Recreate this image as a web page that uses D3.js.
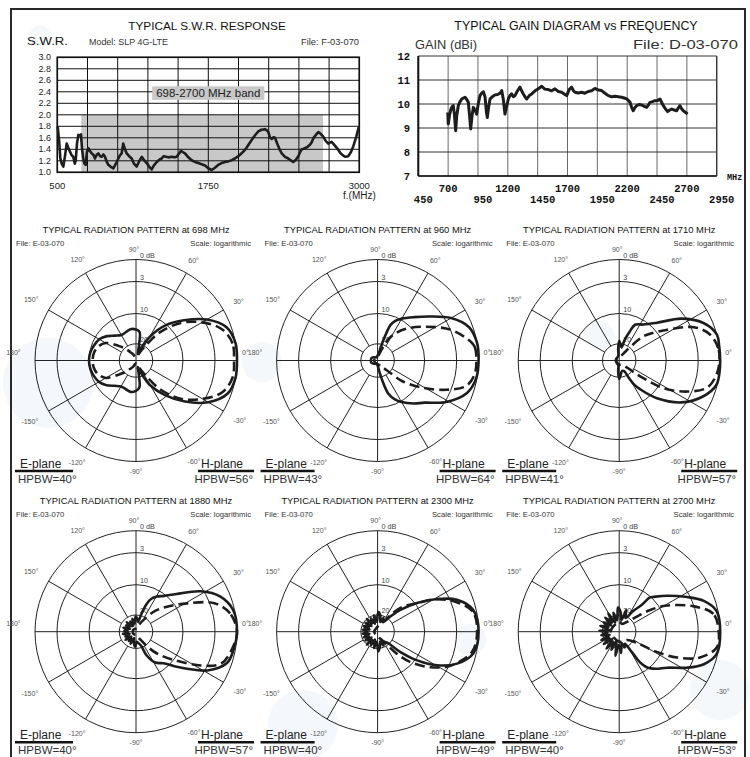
<!DOCTYPE html>
<html><head><meta charset="utf-8">
<script src="https://cdn.jsdelivr.net/npm/d3@7"></script>
<style>body{margin:0;background:#fff}svg{display:block}</style>
</head><body>
<svg id="c" width="750" height="757"></svg>
<script>
// ---------------- DATA ----------------
const swrCurve = [[503,1.80],[515,1.55],[525,1.25],[536,1.15],[550,1.10],[565,1.30],[578,1.50],[592,1.42],[605,1.36],[618,1.30],[632,1.27],[645,1.15],[652,1.20],[663,1.50],[674,1.65],[686,1.64],[696,1.66],[705,1.40],[715,1.24],[725,1.15],[735,1.13],[745,1.35],[757,1.42],[770,1.37],[785,1.33],[800,1.30],[812,1.24],[825,1.30],[840,1.33],[855,1.28],[868,1.27],[882,1.31],[895,1.27],[910,1.18],[922,1.13],[940,1.10],[964,1.07],[985,1.15],[1005,1.24],[1020,1.30],[1033,1.33],[1046,1.50],[1060,1.40],[1074,1.33],[1095,1.28],[1116,1.24],[1135,1.15],[1157,1.10],[1175,1.18],[1199,1.27],[1215,1.22],[1240,1.16],[1260,1.10],[1281,1.05],[1300,1.12],[1323,1.18],[1345,1.22],[1364,1.24],[1380,1.28],[1400,1.27],[1420,1.26],[1447,1.27],[1470,1.26],[1488,1.27],[1510,1.33],[1524,1.37],[1540,1.35],[1557,1.33],[1585,1.26],[1612,1.21],[1640,1.18],[1667,1.16],[1695,1.14],[1723,1.12],[1750,1.07],[1778,1.04],[1805,1.08],[1833,1.13],[1860,1.16],[1888,1.18],[1915,1.19],[1944,1.21],[1970,1.24],[1999,1.28],[2025,1.33],[2054,1.39],[2080,1.47],[2109,1.56],[2135,1.64],[2164,1.71],[2190,1.74],[2219,1.75],[2235,1.73],[2247,1.70],[2262,1.60],[2275,1.58],[2290,1.61],[2302,1.60],[2320,1.50],[2340,1.40],[2358,1.33],[2385,1.27],[2412,1.24],[2430,1.21],[2453,1.18],[2475,1.22],[2495,1.28],[2510,1.35],[2523,1.40],[2540,1.41],[2550,1.42],[2570,1.44],[2591,1.48],[2605,1.52],[2619,1.59],[2640,1.65],[2661,1.70],[2680,1.67],[2702,1.62],[2720,1.55],[2743,1.50],[2760,1.52],[2771,1.53],[2800,1.46],[2826,1.39],[2845,1.33],[2867,1.29],[2885,1.27],[2908,1.28],[2930,1.35],[2950,1.45],[2975,1.62],[2997,1.80]];
const swrYTicks = [1.0,1.2,1.4,1.6,1.8,2.0,2.2,2.4,2.6,2.8,3.0];
const swrXLabels = [500,1750,3000];
const swrBand = [698,2700];

const gainCurve = [[697,9.65],[701,9.17],[712,9.55],[724,9.79],[735,9.90],[743,9.93],[752,9.60],[763,8.89],[772,9.50],[785,9.93],[800,10.10],[814,10.21],[828,10.25],[841,10.28],[855,10.20],[869,10.07],[878,9.60],[889,8.96],[900,9.50],[911,9.86],[925,9.75],[939,9.58],[952,10.0],[967,10.35],[981,10.45],[995,10.51],[1009,10.30],[1020,9.70],[1028,9.44],[1040,9.90],[1051,10.21],[1070,10.30],[1093,10.38],[1115,10.40],[1134,10.44],[1149,10.56],[1162,10.20],[1176,9.58],[1190,9.90],[1204,10.21],[1218,10.35],[1232,10.42],[1246,10.30],[1260,10.35],[1281,10.55],[1302,10.70],[1316,10.55],[1330,10.42],[1344,10.30],[1358,10.21],[1380,10.35],[1400,10.42],[1428,10.55],[1455,10.63],[1484,10.74],[1510,10.62],[1539,10.60],[1567,10.55],[1595,10.63],[1623,10.52],[1651,10.49],[1672,10.42],[1693,10.35],[1714,10.60],[1735,10.70],[1750,10.55],[1763,10.49],[1790,10.46],[1819,10.49],[1846,10.45],[1874,10.52],[1902,10.55],[1930,10.65],[1958,10.58],[1986,10.56],[2014,10.45],[2042,10.35],[2070,10.30],[2098,10.32],[2126,10.30],[2154,10.28],[2175,10.25],[2196,10.21],[2210,10.15],[2224,10.07],[2238,9.85],[2251,9.72],[2265,9.85],[2279,9.93],[2300,9.98],[2322,9.96],[2343,9.90],[2363,9.86],[2377,9.95],[2391,10.07],[2412,10.10],[2433,10.14],[2455,10.15],[2475,10.21],[2490,10.05],[2503,9.93],[2520,9.80],[2539,9.68],[2556,9.75],[2573,9.79],[2595,9.75],[2615,9.72],[2630,9.85],[2642,9.93],[2656,9.80],[2670,9.72],[2690,9.65],[2705,9.58]];
const gainYTicks = [7,8,9,10,11,12];
const gainXTop = [700,1200,1700,2200,2700];
const gainXBottom = [450,950,1450,1950,2450,2950];

const patternFreqs = [698,960,1710,1880,2300,2700];
const eHPBW = [40,43,41,40,40,40];
const hHPBW = [56,64,57,57,49,53];
const ringLevels = [0,3,10,20];
const ringLabels = ["0","3","10","20"];
const angleTicks = [0,30,60,90,120,150,180,-150,-120,-90,-60,-30];

// [angle deg, level dB below max]
const solid698 = [[0,0],[10,0],[20,0.6],[30,2.6],[40,6.6],[50,10.4],[60,16.5],[67,21],[74,26],[79,20],[83,16],[90,15.3],[100,15],[110,15.6],[120,15.8],[130,14.8],[140,13],[150,11.5],[160,10.8],[170,10.2],[180,10],[-170,10.2],[-160,10.7],[-150,11.4],[-140,12.8],[-130,14.6],[-120,15.6],[-110,15.5],[-100,15],[-90,15.5],[-83,16.5],[-79,20.5],[-74,26],[-67,21],[-60,16],[-50,10.6],[-40,6.3],[-30,2.4],[-20,0.5],[-10,0]];
const dashed698 = [[0,0.4],[10,0.4],[20,1.3],[30,3.6],[40,7.5],[50,13.5],[58,20],[66,25],[80,28],[100,28],[115,26],[124,24],[132,20.5],[140,18],[150,14],[160,12.2],[170,11.4],[180,11.2],[-170,11.4],[-160,12.2],[-150,14],[-140,18.5],[-132,21],[-124,24],[-115,26],[-100,28],[-80,28],[-66,25],[-58,20],[-50,13],[-40,7.2],[-30,3.5],[-20,1.2],[-10,0.4]];
const solid960 = [[0,0],[10,0],[20,0.5],[30,2.2],[40,5.3],[50,7.9],[60,9.7],[66,11.2],[70,13],[73,17],[76,21],[80,25],[90,27],[110,28],[140,27],[160,26],[180,26],[-160,26],[-140,27],[-110,28],[-90,27],[-82,24],[-77,19],[-72,14],[-66,11.5],[-60,9.8],[-50,8],[-42,6.5],[-31,2.8],[-20,0.8],[-10,0.1]];
const dashed960 = [[0,0.3],[8,0.4],[13,1.1],[23,3],[35,7.4],[48,11.4],[56,14.5],[63,17.5],[70,23],[80,27],[100,28],[140,28],[180,28],[-140,28],[-100,28],[-70,27],[-55,25],[-46,21.5],[-40,15],[-31,8.7],[-23,3.9],[-16,1.2],[-8,0.4]];
const solid1710 = [[0,0],[8,0],[15,0],[24,1.2],[34,3.9],[45,8.6],[56,11.2],[66,12.6],[70,15.3],[75,18.4],[80,22],[86,20],[90,19],[95,23],[100,27],[130,28],[180,28],[-130,28],[-100,27],[-95,23],[-90,19.4],[-85,21],[-75,23.5],[-65,23],[-61,19],[-58,16],[-54,13.8],[-45,8.6],[-34,3.9],[-23,1.3],[-14,0.1],[-7,0]];
const dashed1710 = [[0,0.1],[7,0.15],[16,0.9],[24,2.6],[33,8],[40,11.5],[45,14.3],[50,19],[56,24],[70,27],[90,27.5],[130,28],[180,28],[-130,28],[-90,27.5],[-60,27],[-45,25],[-40,22],[-37,17],[-32,8.9],[-24.5,3.9],[-17,1.2],[-8,0.35]];
const solid1880 = [[0,0],[12.6,0.2],[22.6,1.3],[32,3.6],[43,8.2],[52,10.5],[59,12],[65,13.5],[69,15.6],[73,19.3],[78,24],[85,22],[92,21],[99,25],[106,22],[113,26],[120,23],[127,26],[134,22],[141,25],[148,23],[155,26],[162,22],[169,25],[176,23],[-177,25],[-170,22],[-163,26],[-156,23],[-149,25],[-142,22],[-135,26],[-128,23],[-121,25],[-114,22],[-107,26],[-100,23],[-93,21],[-86,24],[-78,23],[-70,21],[-66,17],[-58,13.5],[-49,11.7],[-42,9],[-36,6.5],[-28.5,2.7],[-19,0.65],[-10.7,0.25]];
const dashed1880 = [[0,0],[11,0.7],[20,2.4],[29,7.5],[39,12.4],[48,16.5],[58,22],[70,26],[90,28],[140,28],[180,28],[-140,28],[-90,28],[-62,25],[-52,19],[-46,15.5],[-37,10.1],[-27.5,4.3],[-20.7,1.4],[-10.8,0.5]];
const solid2300 = [[0,0],[12.8,0.4],[21.9,2.1],[28.7,5.4],[36,9.6],[44,15.3],[50.6,19.2],[60,23],[67,21],[74,24],[81,20],[88,19],[95,24],[102,20],[109,25],[116,21],[123,24],[130,20],[137,25],[144,21],[151,24],[158,21],[165,25],[172,21],[180,24],[-172,21],[-165,25],[-158,21],[-151,24],[-144,21],[-137,25],[-130,20],[-123,24],[-116,21],[-109,25],[-102,20],[-95,24],[-88,19],[-81,21],[-74,24],[-67,21],[-60,23],[-48,21],[-42,15.7],[-36,9.6],[-29.4,5.3],[-21.9,2.1],[-12.8,0.4]];
const dashed2300 = [[0,0.2],[12,0.5],[21,2.4],[29,5.6],[37,10.2],[44,13.5],[50,17],[56,22],[70,25],[90,27],[180,28],[-90,27],[-65,25],[-55,21],[-49,16],[-43,10.9],[-34,6.4],[-25,2.8],[-12,0.6]];
const solid2700 = [[0,0],[12,0.2],[20,1.5],[27,3.6],[37,7.2],[45,9.5],[48,10.3],[50,14],[56,17.3],[65,21],[72,18],[79,23],[86,19],[93,17.5],[100,23],[107,19],[114,24],[121,18.5],[128,23],[135,19],[142,24],[149,19.5],[156,23],[163,19],[170,24],[177,19],[-176,23],[-169,19.5],[-162,24],[-155,19],[-148,23],[-141,19],[-134,24],[-127,18.5],[-120,23],[-113,19],[-106,24],[-99,17.5],[-92,22],[-85,18.5],[-78,23],[-71,20],[-65,22],[-58,17.5],[-56,13.5],[-52,10.5],[-45,8.8],[-37,7.2],[-28,3.5],[-21,1.4],[-13,0.15]];
const dashed2700 = [[0,0.2],[10.7,0.7],[18.7,3],[28.8,8.4],[35,13],[40,17.5],[50,22],[70,25],[90,24],[180,25],[-90,24],[-45,23],[-33,19],[-31,17.6],[-29,12.7],[-24,6.4],[-17.7,2.2],[-9.2,0.3]];
const solidPatterns = [solid698,solid960,solid1710,solid1880,solid2300,solid2700];
const dashedPatterns = [dashed698,dashed960,dashed1710,dashed1880,dashed2300,dashed2700];

// ---------------- DRAW ----------------
const SANS = "'Liberation Sans', Arial, sans-serif";
const MONO = "'Liberation Mono', 'Courier New', monospace";
const svg = d3.select('#c');
svg.append('rect').attr('width',750).attr('height',757).attr('fill','#fff');

// faint watermark
const wm = svg.append('g').attr('fill','#dbe7f3').attr('opacity',0.3);
[[48,383,45],[303,725,35],[262,362,20],[720,690,30],[40,35,10],[600,335,14],[470,640,16]].forEach(c=>{
  wm.append('circle').attr('cx',c[0]).attr('cy',c[1]).attr('r',c[2]);
});

function txt(g,x,y,s,o={}){
  const t=g.append('text').attr('x',x).attr('y',y).text(s)
    .attr('font-family',o.family||SANS).attr('font-size',o.size||9)
    .attr('fill',o.fill||'#222').attr('text-anchor',o.anchor||'start');
  if(o.weight) t.attr('font-weight',o.weight);
  if(o.len){ t.attr('textLength',o.len).attr('lengthAdjust','spacingAndGlyphs'); }
  return t;
}

// outer frame
svg.append('rect').attr('x',11).attr('y',9).attr('width',734).attr('height',770)
  .attr('fill','none').attr('stroke','#2a2a2a').attr('stroke-width',2);

// ===== SWR chart =====
const sw = svg.append('g');
const swrX = d3.scaleLinear().domain([500,3000]).range([57.3,359.3]);
const swrY = d3.scaleLinear().domain([1,3]).range([172.3,57.3]);
sw.append('rect').attr('x',swrX(swrBand[0])).attr('y',swrY(2)).attr('width',swrX(swrBand[1])-swrX(swrBand[0]))
  .attr('height',swrY(1)-swrY(2)).attr('fill','#c8c8c8');
d3.range(500,3001,250).forEach(f=>{
  sw.append('line').attr('x1',swrX(f)).attr('x2',swrX(f)).attr('y1',swrY(1)).attr('y2',swrY(3)).attr('stroke','#111').attr('stroke-width',1);
});
swrYTicks.forEach(v=>{
  sw.append('line').attr('x1',swrX(500)).attr('x2',swrX(3000)).attr('y1',swrY(v)).attr('y2',swrY(v)).attr('stroke','#111').attr('stroke-width',1);
  txt(sw,51,swrY(v)+3,v.toFixed(1),{size:9,anchor:'end'});
});
sw.append('rect').attr('x',swrX(500)).attr('y',swrY(3)).attr('width',swrX(3000)-swrX(500)).attr('height',swrY(1)-swrY(3))
  .attr('fill','none').attr('stroke','#111').attr('stroke-width',1.6);
// band label
const bl = txt(sw,swrX(1750),swrY(2.4)+5,`${swrBand[0]}-${swrBand[1]} MHz band`,{size:11.5,anchor:'middle',fill:'#222'});
const bw = bl.node().getComputedTextLength();
sw.insert('rect',()=>bl.node()).attr('x',swrX(1750)-bw/2-4).attr('y',swrY(2.4)-5.5).attr('width',bw+8).attr('height',13.5).attr('fill','#c8c8c8');
sw.append('path').datum(swrCurve).attr('fill','none').attr('stroke','#1d1d1d').attr('stroke-width',2.6)
  .attr('stroke-linejoin','round').attr('d',d3.line().x(d=>swrX(d[0])).y(d=>swrY(d[1])));
swrXLabels.forEach(f=>txt(sw,swrX(f),189,String(f),{size:9.5,anchor:'middle'}));
txt(sw,343,198.5,'f.(MHz)',{size:10});
txt(sw,207,29.5,'TYPICAL S.W.R. RESPONSE',{size:11.8,anchor:'middle',fill:'#111'});
txt(sw,27,45,'S.W.R.',{size:11.5,len:41,fill:'#111'});
txt(sw,89,44.5,'Model:  SLP 4G-LTE',{size:8.5,len:79,fill:'#333'});
txt(sw,359,44.5,'File:  F-03-070',{size:9,anchor:'end',len:58,fill:'#333'});

// ===== Gain chart =====
const gg = svg.append('g');
const gX = d3.scaleLinear().domain([450,2950]).range([418.3,716.7]);
const gY = d3.scaleLinear().domain([7,12]).range([176,56]);
d3.range(450,2951,250).forEach(f=>{
  gg.append('line').attr('x1',gX(f)).attr('x2',gX(f)).attr('y1',gY(7)).attr('y2',gY(12)).attr('stroke','#6a6a6a').attr('stroke-width',1);
});
gainYTicks.forEach(v=>{
  gg.append('line').attr('x1',gX(450)).attr('x2',gX(2950)).attr('y1',gY(v)).attr('y2',gY(v)).attr('stroke','#333').attr('stroke-width',1);
  txt(gg,410,gY(v)+3.5,String(v),{size:10.5,anchor:'end',family:MONO,weight:'bold',fill:'#111'});
});
gg.append('line').attr('x1',gX(450)).attr('x2',gX(450)).attr('y1',gY(7)).attr('y2',gY(12)).attr('stroke','#111').attr('stroke-width',2);
gg.append('line').attr('x1',gX(450)).attr('x2',gX(2950)).attr('y1',gY(7)).attr('y2',gY(7)).attr('stroke','#111').attr('stroke-width',1.6);
gg.append('line').attr('x1',gX(2950)).attr('x2',gX(2950)).attr('y1',gY(7)).attr('y2',gY(12)).attr('stroke','#333').attr('stroke-width',1.3);
gg.append('path').datum(gainCurve).attr('fill','none').attr('stroke','#1d1d1d').attr('stroke-width',3)
  .attr('stroke-linejoin','round').attr('d',d3.line().x(d=>gX(d[0])).y(d=>gY(d[1])));
gainXTop.forEach(f=>txt(gg,gX(f),191.5,String(f),{size:10.5,anchor:'middle',family:MONO,weight:'bold',fill:'#111'}));
gainXBottom.forEach(f=>txt(gg,gX(f)+5,202.5,String(f),{size:10.5,anchor:'middle',family:MONO,weight:'bold',fill:'#111'}));
txt(gg,727,180,'MHz',{size:8.5,family:MONO,weight:'bold',fill:'#111'});
txt(gg,576,29.5,'TYPICAL GAIN DIAGRAM vs FREQUENCY',{size:12.4,anchor:'middle',fill:'#111'});
txt(gg,415,49,'GAIN (dBi)',{size:12.5,fill:'#333',len:62});
txt(gg,738,49,'File:  D-03-070',{size:12.5,anchor:'end',fill:'#333',len:105});

// ===== Polar charts =====
const R = 101;
const rScale = d3.scaleLinear().domain([0,3,10,20,30]).range([R,79,47,16.7,0]).clamp(true);
const aScale = d3.scaleLinear().domain([0,360]).range([Math.PI/2, Math.PI/2-2*Math.PI]);
const radial = d3.lineRadial().angle(d=>aScale(d[0])).radius(d=>rScale(d[1])).curve(d3.curveCatmullRomClosed.alpha(0.5));

patternFreqs.forEach((freq,i)=>{
  const col=i%3,row=Math.floor(i/3);
  const cx=136+col*241.6, cy=360.5+row*271.2;
  const g=svg.append('g');
  const p=g.append('g').attr('transform',`translate(${cx},${cy})`);
  ringLevels.forEach(l=>{
    p.append('circle').attr('r',rScale(l)).attr('fill','none').attr('stroke','#222').attr('stroke-width',1);
  });
  angleTicks.forEach(a=>{
    const rad=a*Math.PI/180;
    const r0 = a%90===0 ? 0 : rScale(20);
    p.append('line').attr('x1',r0*Math.cos(rad)).attr('y1',-r0*Math.sin(rad)).attr('x2',R*Math.cos(rad)).attr('y2',-R*Math.sin(rad)).attr('stroke','#222').attr('stroke-width',1);
  });
  angleTicks.forEach(a=>{
    const rad=a*Math.PI/180;
    if(a===90){ txt(p,-2,-R-8,'90°',{size:7,anchor:'middle',fill:'#555'}); return; }
    if(a===0){ txt(p,R+5,-5.5,'0°',{size:7,fill:'#555'}); return; }
    const t=txt(p,0,0,`${a}°`,{size:7,anchor:'middle',fill:'#555'});
    const w=t.node().getComputedTextLength();
    const rl=111+0.8*w*Math.abs(Math.cos(rad));
    let y=-rl*Math.sin(rad)+2.5;
    if(Math.abs(a)===180) y=-5.5;
    t.attr('x',rl*Math.cos(rad)).attr('y',y);
  });
  ringLevels.forEach((l,k)=>{
    txt(p,4,-rScale(l)-2,ringLabels[k]+(l===0?' dB':''),{size:7.2,fill:'#444'});
  });
  p.append('path').datum(dashedPatterns[i]).attr('d',radial).attr('fill','none').attr('stroke','#1d1d1d')
    .attr('stroke-width',2.6).attr('stroke-dasharray','10,5').attr('stroke-linejoin','round');
  p.append('path').datum(solidPatterns[i]).attr('d',radial).attr('fill','none').attr('stroke','#1d1d1d')
    .attr('stroke-width',2.6).attr('stroke-linejoin','round');
  txt(g,cx,cy-128,`TYPICAL RADIATION PATTERN at ${freq} MHz`,{size:9.4,anchor:'middle',fill:'#111'});
  const fx = col===0 ? 16 : cx-113;
  txt(g,fx,cy-115,'File:  E-03-070',{size:7.7,fill:'#333'});
  txt(g,cx+115,cy-115,'Scale: logarithmic',{size:7.7,anchor:'end',fill:'#333'});
  const ex = col===0 ? cx-121 : cx-117;
  g.append('line').attr('x1',ex).attr('x2',cx-63).attr('y1',cy+110.5).attr('y2',cy+110.5).attr('stroke','#111').attr('stroke-width',2.6);
  txt(g,ex+5,cy+107,'E-plane',{size:12,fill:'#222'});
  txt(g,ex+3,cy+122,`HPBW=${eHPBW[i]}°`,{size:11.5,fill:'#333'});
  g.append('line').attr('x1',cx+62).attr('x2',cx+118).attr('y1',cy+110.5).attr('y2',cy+110.5).attr('stroke','#111').attr('stroke-width',2.6);
  txt(g,cx+107,cy+107,'H-plane',{size:12,anchor:'end',fill:'#222'});
  txt(g,cx+117,cy+122,`HPBW=${hHPBW[i]}°`,{size:11.5,anchor:'end',fill:'#333'});
});
</script>
</body></html>
